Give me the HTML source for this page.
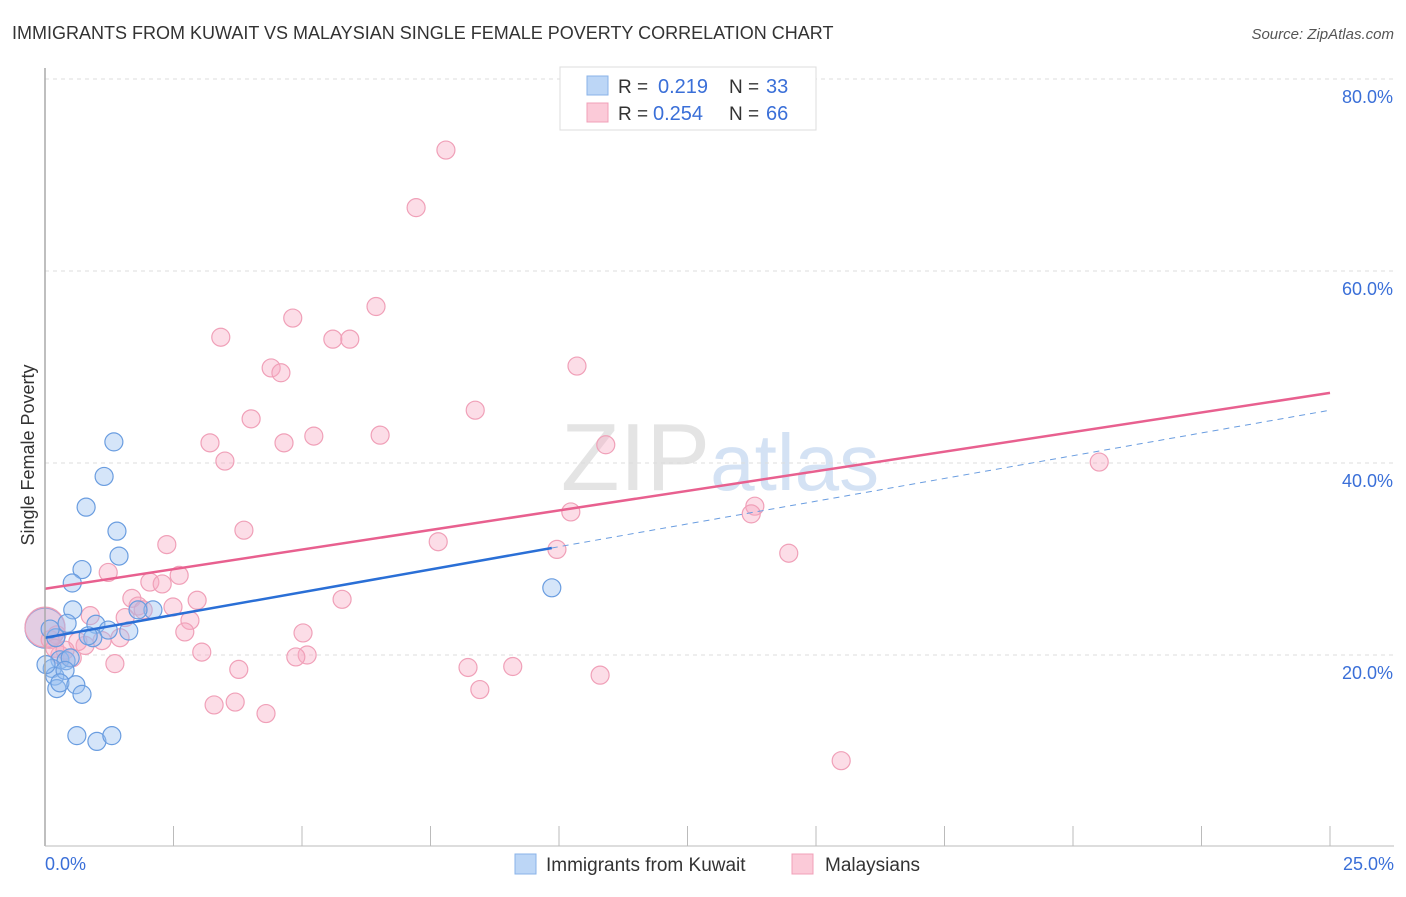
<!DOCTYPE html>
<html><head><meta charset="utf-8"><style>
body{margin:0;background:#fff;font-family:"Liberation Sans",sans-serif;}
svg text{font-family:"Liberation Sans",sans-serif;}
</style></head><body>
<svg id="c" width="1406" height="892">
<text x="12" y="39" font-size="18" fill="#333">IMMIGRANTS FROM KUWAIT VS MALAYSIAN SINGLE FEMALE POVERTY CORRELATION CHART</text>
<text x="1394" y="39" font-size="15" fill="#555" font-style="italic" text-anchor="end">Source: ZipAtlas.com</text>
<text x="720" y="490" font-size="96" fill="#e4e4e4" text-anchor="middle" font-family="Liberation Serif">ZIP<tspan fill="#d4e2f4" font-family="Liberation Sans" font-size="80">atlas</tspan></text>
<text x="34" y="455" font-size="18" fill="#333" text-anchor="middle" transform="rotate(-90 34 455)">Single Female Poverty</text>
<g id="grid"></g><g id="pts"></g><g id="lines"></g>
<line x1="45" y1="68" x2="45" y2="846" stroke="#aaa" stroke-width="1.5"/>
<line x1="45" y1="846" x2="1394" y2="846" stroke="#bbb" stroke-width="1"/>
<text x="45" y="870" font-size="18" fill="#3a6fd8">0.0%</text>
<text x="1394" y="870" font-size="18" fill="#3a6fd8" text-anchor="end">25.0%</text>
<g>
<rect x="560" y="67" width="256" height="63" fill="#fff" stroke="#ddd"/>
<rect x="587" y="76" width="21" height="19" fill="#bcd6f6" stroke="#8ab3e8"/>
<rect x="587" y="103" width="21" height="19" fill="#fbcad8" stroke="#f0a0b8"/>
<text x="618" y="93" font-size="19" fill="#333">R = </text><text x="658" y="93" font-size="20" fill="#3a6fd8">0.219</text>
<text x="729" y="93" font-size="19" fill="#333">N = </text><text x="766" y="93" font-size="20" fill="#3a6fd8">33</text>
<text x="618" y="120" font-size="19" fill="#333">R = </text><text x="653" y="120" font-size="20" fill="#3a6fd8">0.254</text>
<text x="729" y="120" font-size="19" fill="#333">N = </text><text x="766" y="120" font-size="20" fill="#3a6fd8">66</text>
</g>
<g>
<rect x="515" y="854" width="21" height="20" fill="#bcd6f6" stroke="#8ab3e8"/>
<text x="546" y="871" font-size="19" fill="#333">Immigrants from Kuwait</text>
<rect x="792" y="854" width="21" height="20" fill="#fbcad8" stroke="#f0a0b8"/>
<text x="825" y="871" font-size="19" fill="#333">Malaysians</text>
</g>
</svg>
<script>
const yTicks=[20,40,60,80];
const xTicks=[0,2.5,5,7.5,10,12.5,15,17.5,20,22.5,25];
const blueX=[1.34,1.15,0.80,1.40,1.44,0.72,0.53,0.54,0.43,2.10,1.81,0.99,1.23,1.63,0.93,0.84,0.21,0.10,0.29,0.41,0.49,0.14,0.19,0.39,0.23,0.29,0.60,0.72,0.62,1.01,1.30,9.86,0.02];
const blueY=[42.2,38.6,35.4,32.9,30.3,28.9,27.5,24.7,23.3,24.7,24.7,23.2,22.6,22.5,21.8,22.0,21.8,22.7,19.5,19.4,19.7,18.6,17.8,18.4,16.5,17.1,16.9,15.9,11.6,11.0,11.6,27.0,19.0];
const pinkX=[7.80,7.22,6.44,4.82,3.42,5.60,5.93,10.35,4.40,4.59,8.37,4.01,3.21,5.23,6.52,4.65,3.50,20.51,10.91,13.81,13.74,10.23,3.87,7.65,9.96,14.47,2.37,1.23,2.61,2.04,2.28,5.78,2.96,1.69,2.49,0.88,1.81,1.91,1.56,2.82,2.72,5.02,0.78,1.11,1.46,0.64,0.23,0.10,0.29,0.53,3.05,5.10,4.88,1.36,3.77,8.23,9.10,10.80,8.46,3.70,3.29,4.30,15.49,0.19,0.39];
const pinkY=[72.6,66.6,56.3,55.1,53.1,52.9,52.9,50.1,49.9,49.4,45.5,44.6,42.1,42.8,42.9,42.1,40.2,40.1,41.9,35.5,34.7,34.9,33.0,31.8,31.0,30.6,31.5,28.6,28.3,27.6,27.4,25.8,25.7,25.9,25.0,24.1,25.1,24.7,23.9,23.6,22.4,22.3,21.0,21.5,21.8,21.4,22.1,21.6,20.0,19.7,20.3,20.0,19.8,19.1,18.5,18.7,18.8,17.9,16.4,15.1,14.8,13.9,8.99,20.7,20.5];
const bigPts=[{x:0,y:22.8,c:'blue'},{x:0,y:22.9,c:'pink'}];
const blueLine=[21.8,0.948];const pinkLine=[26.9,0.816];
const X=v=>45+v/25*1285, Y=v=>847-v*9.6;
const NS='http://www.w3.org/2000/svg';
function mk(t,a,p){const e=document.createElementNS(NS,t);for(const k in a)e.setAttribute(k,a[k]);p.appendChild(e);return e;}
const grid=document.getElementById('grid'),pts=document.getElementById('pts'),lines=document.getElementById('lines');
yTicks.forEach(t=>{
 const l=mk('line',{x1:45,x2:1394,y1:Y(t),y2:Y(t),stroke:'#ddd','stroke-dasharray':'4,4'},grid);
 
 
 const tx=mk('text',{x:1393,y:Y(t)+24,'font-size':18,fill:'#3a6fd8','text-anchor':'end'},grid);tx.textContent=t.toFixed(1)+'%';
 
 
});
xTicks.forEach(t=>{
 const l=mk('line',{x1:X(t),x2:X(t),y1:826,y2:846,stroke:'#bbb'},grid);
 
 
});
function dot(x,y,c,r){
 const e=mk('circle',{cx:X(x),cy:Y(y),r:r,fill:c=='blue'?'rgba(150,190,240,0.4)':'rgba(248,170,195,0.4)',stroke:c=='blue'?'#6a9de0':'#f0a0b8','stroke-width':1.2},pts);
 return e;
}
bigPts.forEach(p=>{const e=dot(p.x,p.y,p.c,20);
 
 });
pinkX.forEach((x,i)=>{const e=dot(x,pinkY[i],'pink',9);
 
 });
blueX.forEach((x,i)=>{const e=dot(x,blueY[i],'blue',9);
 
 });
const bmax=Math.max(...blueX);
let l=mk('line',{x1:X(0),y1:Y(pinkLine[0]),x2:X(25),y2:Y(pinkLine[0]+pinkLine[1]*25),stroke:'#e8608f','stroke-width':2.5},lines);


l=mk('line',{x1:X(0),y1:Y(blueLine[0]),x2:X(bmax),y2:Y(blueLine[0]+blueLine[1]*bmax),stroke:'#2a6fd6','stroke-width':2.5},lines);


l=mk('line',{x1:X(bmax),y1:Y(blueLine[0]+blueLine[1]*bmax),x2:X(25),y2:Y(blueLine[0]+blueLine[1]*25),stroke:'#6a9de0','stroke-width':1,'stroke-dasharray':'6,5'},lines);


</script>
</body></html>
